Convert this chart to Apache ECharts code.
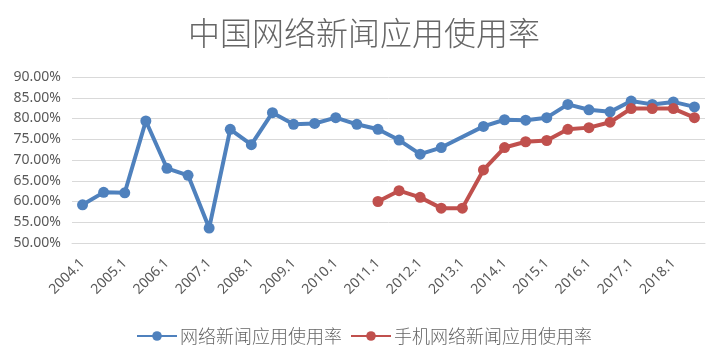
<!DOCTYPE html>
<html>
<head>
<meta charset="utf-8">
<script src="https://cdn.jsdelivr.net/npm/echarts@6/dist/echarts.min.js"></script>
<style>
html,body{margin:0;padding:0;background:#fff;}
#chart{width:728px;height:358px;}
</style>
</head>
<body>
<div id="chart"></div>
<script>
var categories = ['2004.1','2004.7','2005.1','2005.7','2006.1','2006.7','2007.1','2007.7','2008.1','2008.7',
  '2009.1','2009.7','2010.1','2010.7','2011.1','2011.7','2012.1','2012.7','2013.1','2013.7',
  '2014.1','2014.7','2015.1','2015.7','2016.1','2016.7','2017.1','2017.7','2018.1','2018.7'];
var newsRate = [59.2,62.2,62.1,79.4,68.0,66.3,53.6,77.4,73.7,81.4,
  78.6,78.8,80.2,78.6,77.4,74.8,71.4,73.0,null,78.1,
  79.7,79.6,80.2,83.4,82.1,81.6,84.2,83.4,84.0,82.8];
var mobileNewsRate = [null,null,null,null,null,null,null,null,null,null,
  null,null,null,null,60.0,62.6,61.0,58.4,58.4,67.6,
  73.0,74.4,74.7,77.4,77.8,79.1,82.4,82.4,82.4,80.2];
var seriesNames = ['网络新闻应用使用率','手机网络新闻应用使用率'];
var yTicks = {min:50, max:90, interval:5};

var chart = echarts.init(document.getElementById('chart'), null, {renderer:'canvas'});
var cjk = "'Noto Sans CJK SC', 'Noto Sans', sans-serif";
chart.setOption({
  animation:false,
  backgroundColor:'#ffffff',
  title:{
    text:'中国网络新闻应用使用率',
    left:'center',
    top:17,
    padding:0,
    textStyle:{fontFamily:cjk, fontSize:32, fontWeight:300, color:'#666666'}
  },
  legend:{
    data:seriesNames,
    left:'center',
    top:322,
    itemWidth:40,
    itemHeight:12,
    itemGap:8,
    textStyle:{fontFamily:cjk, fontSize:18, fontWeight:300, color:'#666666', padding:[0,0,0,-2]}
  },
  grid:{left:72, right:23, top:77, bottom:115, containLabel:false},
  xAxis:{
    type:'category',
    data:categories,
    boundaryGap:true,
    axisLine:{show:true, lineStyle:{color:'#d9d9d9', width:1}},
    axisTick:{show:false},
    axisLabel:{interval:1, rotate:45, margin:18, fontSize:14, color:'#595959', fontFamily:"'Noto Sans', sans-serif"}
  },
  yAxis:{
    type:'value',
    min:yTicks.min, max:yTicks.max, interval:yTicks.interval,
    axisLine:{show:false},
    axisTick:{show:false},
    splitLine:{lineStyle:{color:'#d9d9d9', width:1}},
    axisLabel:{margin:11, fontSize:14, color:'#595959', fontFamily:"'Noto Sans', sans-serif",
      formatter:function(v){return v.toFixed(2)+'%';}}
  },
  series:[
    {name:seriesNames[0], type:'line', data:newsRate, connectNulls:true,
     symbol:'circle', symbolSize:11, color:'#4F81BD',
     lineStyle:{width:4, color:'#4F81BD'}, itemStyle:{color:'#4F81BD'}},
    {name:seriesNames[1], type:'line', data:mobileNewsRate, connectNulls:false,
     symbol:'circle', symbolSize:11, color:'#C0504D',
     lineStyle:{width:4, color:'#C0504D'}, itemStyle:{color:'#C0504D'}}
  ]
});
</script>
</body>
</html>
